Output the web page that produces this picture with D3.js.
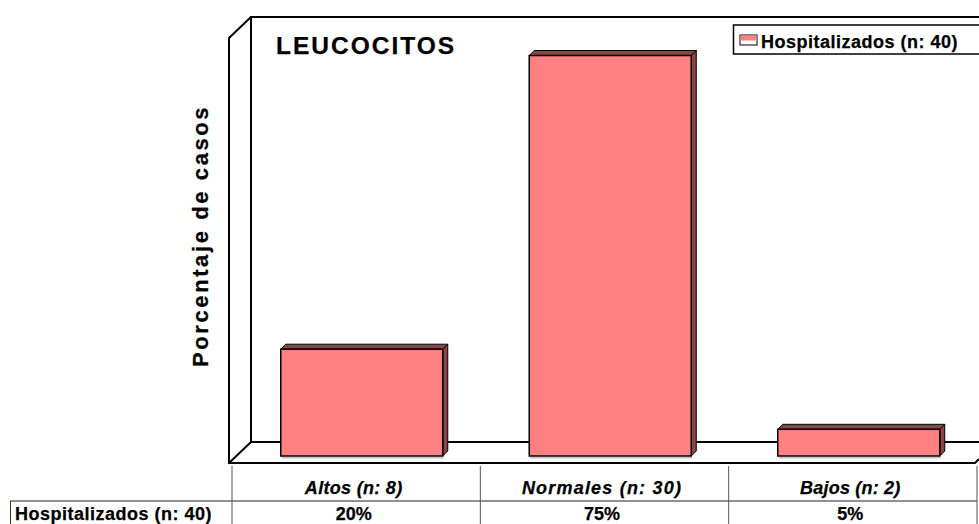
<!DOCTYPE html>
<html><head><meta charset="utf-8">
<script src="https://cdn.jsdelivr.net/npm/d3@7/dist/d3.min.js"></script>
<style>html,body{margin:0;padding:0;background:#fff}svg{display:block}text{font-family:"Liberation Sans",Arial,sans-serif;font-weight:bold;fill:#000;stroke:#000;stroke-width:.25}</style>
</head><body><script>
const categories = ["Altos (n: 8)", "Normales (n: 30)", "Bajos (n: 2)"];
const percentages = [20, 75, 5];
const seriesName = "Hospitalizados (n: 40)";
const chartTitle = "LEUCOCITOS";
const axisTitle = "Porcentaje de casos";

const width = 979, height = 524, depth = 5;
const front = "#ff8080", dark = "#8a4646", ink = "#000";
const categoryTracking = [0.3, 1.2, 0.2];

const svg = d3.select("body").append("svg").attr("width", width).attr("height", height);

const x = d3.scaleBand().domain(categories).range([237.5, 983]).paddingInner(0.348).paddingOuter(0.174);
const y = d3.scaleLinear().domain([0, 75]).range([456, 55.5]);
const tableX = d3.scaleBand().domain(categories).range([232, 977]);
const labelShift = -2.5;

// Box walls and floor in oblique projection
const walls = svg.append("g").attr("fill", "none").attr("stroke", ink);
walls.append("path").attr("stroke-width", 2)
  .attr("d", "M979,17H251V442H979M251,17L229,38V463H975L979,459M229,463L251,442");

// Bars: shadow edge, side face, top face, front face
const bars = svg.append("g").selectAll("g").data(percentages).join("g");
bars.append("rect").attr("fill", "#c4c4c4")
  .attr("x", (d, i) => x(categories[i]) + 1).attr("y", 457).attr("width", x.bandwidth()).attr("height", 1.5);
bars.append("path").attr("fill", dark).attr("stroke", ink).attr("stroke-width", 1)
  .attr("d", (d, i) => {
    const r = x(categories[i]) + x.bandwidth();
    return `M${r},${y(d)}l${depth},-${depth}V${y(0) - depth}l-${depth},${depth}Z`;
  });
bars.append("path").attr("fill", dark).attr("stroke", ink).attr("stroke-width", 1)
  .attr("d", (d, i) => {
    const l = x(categories[i]);
    return `M${l},${y(d)}l${depth},-${depth}h${x.bandwidth()}l-${depth},${depth}Z`;
  });
bars.append("rect").attr("fill", front).attr("stroke", ink).attr("stroke-width", 1.5)
  .attr("x", (d, i) => x(categories[i])).attr("y", d => y(d))
  .attr("width", x.bandwidth()).attr("height", d => y(0) - y(d));

// Titles
svg.append("text").attr("x", 276).attr("y", 54).attr("font-size", 24.5).attr("letter-spacing", 2).text(chartTitle);
svg.append("text").attr("transform", "translate(208,367) rotate(-90)").attr("font-size", 22)
  .attr("letter-spacing", 2.6).text(axisTitle);

// Legend
const legend = svg.append("g");
legend.append("rect").attr("x", 733.5).attr("y", 25).attr("width", 250).attr("height", 29)
  .attr("fill", "#fff").attr("stroke", ink).attr("stroke-width", 1.5);
legend.append("rect").attr("x", 740).attr("y", 35).attr("width", 17).attr("height", 10)
  .attr("fill", "#fff").attr("stroke", ink);
legend.append("rect").attr("x", 740.5).attr("y", 35.5).attr("width", 16).attr("height", 5).attr("fill", front);
legend.append("text").attr("x", 761).attr("y", 47.5).attr("font-size", 18).attr("letter-spacing", 0.5).text(seriesName);

// Data table under the plot
const table = svg.append("g");
const rowY = 501;
table.append("line").attr("x1", 10).attr("x2", 977).attr("y1", rowY).attr("y2", rowY).attr("stroke", "#222");
table.append("path").attr("fill", "none").attr("stroke", "#333").attr("d", "M10.5,524V501");
table.selectAll("line.col").data([...categories, null]).join("line").attr("class", "col")
  .attr("x1", (d, i) => 232 + i * tableX.step()).attr("x2", (d, i) => 232 + i * tableX.step())
  .attr("y1", 466).attr("y2", 524).attr("stroke", "#555");
table.selectAll("text.cat").data(categories).join("text").attr("class", "cat")
  .attr("x", d => tableX(d) + tableX.bandwidth() / 2 + labelShift).attr("y", 494)
  .attr("text-anchor", "middle").attr("font-size", 18).attr("font-style", "italic")
  .attr("letter-spacing", (d, i) => categoryTracking[i]).text(d => d);
table.selectAll("text.val").data(percentages).join("text").attr("class", "val")
  .attr("x", (d, i) => tableX(categories[i]) + tableX.bandwidth() / 2 + labelShift).attr("y", 520)
  .attr("text-anchor", "middle").attr("font-size", 18).text(d => d + "%");
table.append("text").attr("x", 15).attr("y", 520).attr("font-size", 18).attr("letter-spacing", 0.5).text(seriesName);
</script></body></html>
